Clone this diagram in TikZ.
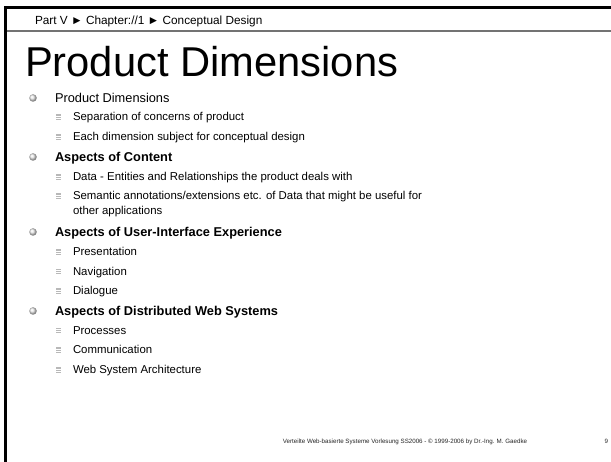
\documentclass[tikz,border=0pt]{standalone}
\usepackage{fontspec}
\setmainfont{Liberation Sans}
\begin{document}
\begin{tikzpicture}[x=1pt,y=-1pt,
  txt/.style={anchor=base west,inner sep=0pt,outer sep=0pt},
  lone/.style={txt,font=\fontsize{12.8}{15}\selectfont},
  lonebf/.style={txt,font=\bfseries\fontsize{12.8}{15}\selectfont},
  ltwo/.style={txt,font=\fontsize{11.4}{14}\selectfont},
  bulone/.style={circle,shading=ball,ball color=black!7,minimum size=7.5pt,inner sep=0pt},
  bultwo/.style={rectangle,fill=black!28,minimum width=5pt,minimum height=5.5pt,inner sep=0pt}]
\useasboundingbox (0,0) rectangle (611,462);
\fill[white] (0,0) rectangle (611,462);
% frame: heavy top rule and left rule, grey rule under the header line
\draw[line width=3pt] (611,8) -- (5.5,8) -- (5.5,462);
\draw[line width=2pt,black!55] (7,31) -- (611,31);
% header
\node[txt,font=\fontsize{11.8}{14}\selectfont] (hdr) at (35,25) {Part V ► Chapter://1 ► Conceptual Design};
% title
\node[txt,font=\fontsize{41.7}{48}\selectfont] (title) at (25,77) {Product Dimensions};
% level one items
\node[lone] (a) at (55,102.5) {Product Dimensions};
\node[lonebf] (b) at (55,161.5) {Aspects of Content};
\node[lonebf] (c) at (55,236.5) {Aspects of User-Interface Experience};
\node[lonebf] (d) at (55,315.5) {Aspects of Distributed Web Systems};
\foreach \n in {a,b,c,d} \node[bulone] at ([xshift=-22pt,yshift=4.5pt]\n.base west) {};
% level two items
\node[ltwo] (a1) at (73,121) {Separation of concerns of product};
\node[ltwo] (a2) at (73,141) {Each dimension subject for conceptual design};
\node[ltwo] (b1) at (73,181) {Data - Entities and Relationships the product deals with};
\node[ltwo] (b2) at (73,200) {Semantic annotations/extensions etc. of Data that might be useful for};
\node[ltwo] (b2b) at (73,215) {other applications};
\node[ltwo] (c1) at (73,256) {Presentation};
\node[ltwo] (c2) at (73,275.5) {Navigation};
\node[ltwo] (c3) at (73,295) {Dialogue};
\node[ltwo] (d1) at (73,334.5) {Processes};
\node[ltwo] (d2) at (73,354) {Communication};
\node[ltwo] (d3) at (73,374) {Web System Architecture};
\foreach \n in {a1,a2,b1,b2,c1,c2,c3,d1,d2,d3} {
  \node[bultwo] (s\n) at ([xshift=-15pt,yshift=4pt]\n.base west) {};
  \draw[white,line width=0.5pt] ([yshift=-0.9pt]s\n.west) -- ([yshift=-0.9pt]s\n.east)
        ([yshift=0.9pt]s\n.west) -- ([yshift=0.9pt]s\n.east);
}
% footer
\node[txt,anchor=base,font=\fontsize{6.2}{7}\selectfont,black!85] (foot) at (405,443) {Verteilte Web-basierte Systeme Vorlesung SS2006 - © 1999-2006 by Dr.-Ing. M. Gaedke};
\node[txt,anchor=base east,font=\fontsize{6.2}{7}\selectfont,black!85] (page) at (608,443) {9};
\end{tikzpicture}
\end{document}
